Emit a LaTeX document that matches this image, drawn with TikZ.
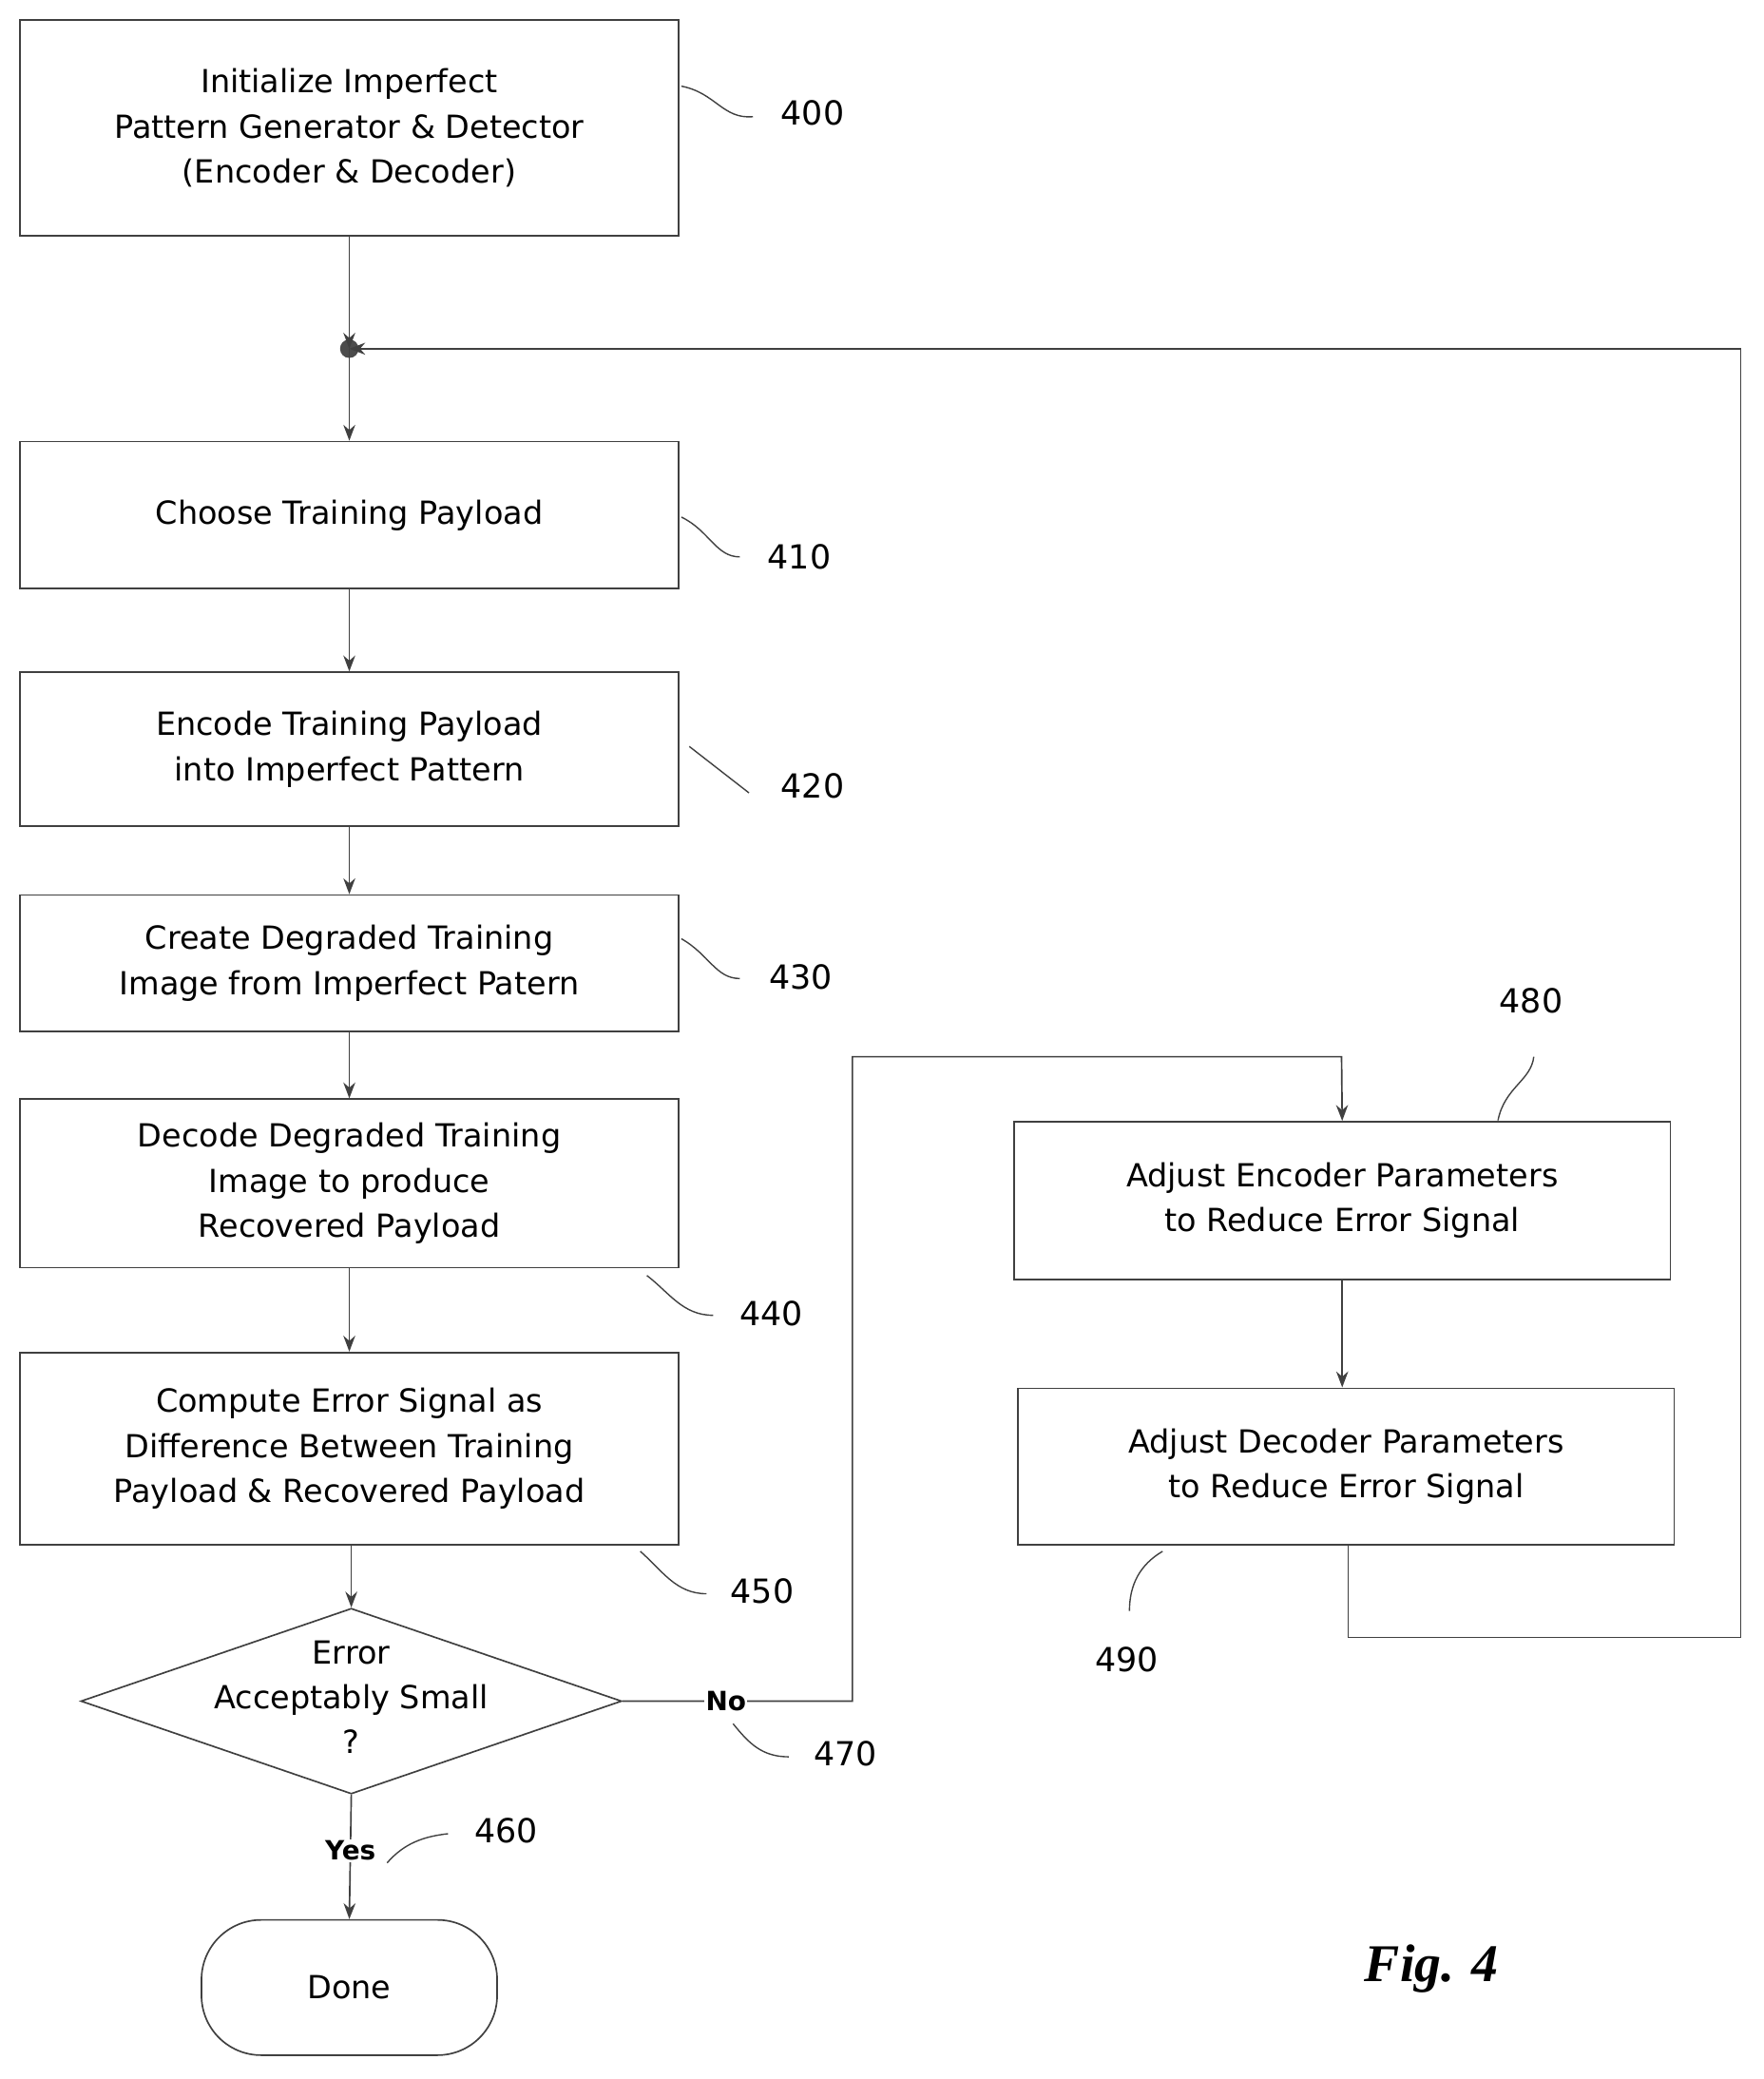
\documentclass[tikz,border=0pt]{standalone}
\usepackage{fontspec}
\setmainfont{DejaVu Sans}
\newfontfamily\figfont{Liberation Serif}
\usetikzlibrary{arrows.meta,shapes.geometric}
\begin{document}
\begin{tikzpicture}[x=1pt,y=-1pt,
  every node/.style={font=\fontsize{24}{34}\selectfont},
  box/.style={draw=black!75,line width=1.2pt,align=center,inner sep=0},
  ln/.style={draw=black!75,line width=1.2pt},
  arr/.style={ln,-{Stealth[length=12pt,width=9pt]}},
  lab/.style={font=\fontsize{25}{30}\selectfont},
  lead/.style={draw=black!75,line width=1pt}]
\useasboundingbox (0,0) rectangle (1330,1568);
\node[box,minimum width=497pt,minimum height=163pt] (b400) at (263.5,96.5) {Initialize Imperfect\\Pattern Generator \& Detector\\(Encoder \& Decoder)};
\node[box,minimum width=497pt,minimum height=111pt] (b410) at (263.5,388.5) {Choose Training Payload};
\node[box,minimum width=497pt,minimum height=116pt] (b420) at (263.5,565) {Encode Training Payload\\into Imperfect Pattern};
\node[box,minimum width=497pt,minimum height=103pt] (b430) at (263.5,726.5) {Create Degraded Training\\Image from Imperfect Patern};
\node[box,minimum width=497pt,minimum height=127pt] (b440) at (263.5,892.5) {Decode Degraded Training\\Image to produce\\Recovered Payload};
\node[box,minimum width=497pt,minimum height=145pt] (b450) at (263.5,1092.5) {Compute Error Signal as\\Difference Between Training\\Payload \& Recovered Payload};
\node[box,diamond,aspect=2.9,minimum width=408pt,minimum height=140pt] (dia) at (265,1283) {};
\node[align=center] at (265,1280) {Error\\Acceptably Small\\?};
\node[box,rounded corners=45pt,minimum width=223pt,minimum height=102pt] (done) at (263.5,1499) {Done};
\node[box,minimum width=495pt,minimum height=119pt] (b480) at (1012.5,905.5) {Adjust Encoder Parameters\\to Reduce Error Signal};
\node[box,minimum width=495pt,minimum height=118pt] (b490) at (1015.5,1106) {Adjust Decoder Parameters\\to Reduce Error Signal};
\coordinate (j) at (263.5,263);
\fill[black!70] (j) circle (7pt);
\draw[arr] (b400) -- (j);
\draw[arr] (j) -- (b410);
\draw[arr] (b410) -- (b420);
\draw[arr] (b420) -- (b430);
\draw[arr] (b430) -- (b440);
\draw[arr] (b440) -- (b450);
\draw[arr] (b450.south -| dia.north) -- (dia.north);
\draw[arr] (dia.south) -- node[fill=white,inner sep=1pt,font=\fontsize{20}{24}\selectfont\bfseries,pos=0.45]{Yes} (done.north);
\draw[arr] (b480) -- (b490.north -| b480.south);
\draw[arr] (dia.east) -- node[fill=white,inner sep=1pt,font=\fontsize{20}{24}\selectfont\bfseries,pos=0.45]{No} (643,1283) -- (643,797) -- (1012,797) -- (b480.north);
\draw[arr] (b490.south -| 1017,0) -- (1017,1235) -- (1313,1235) -- (1313,263) -- (j);
\node[lab] at (613,85) {400};
\node[lab] at (603,420) {410};
\node[lab] at (613,593) {420};
\node[lab] at (604,737) {430};
\node[lab] at (582,991) {440};
\node[lab] at (575,1200) {450};
\node[lab] at (638,1323) {470};
\node[lab] at (382,1381) {460};
\node[lab] at (1155,755) {480};
\node[lab] at (850,1252) {490};
\draw[lead] (514,65) .. controls (540,70) and (545,90) .. (568,88);
\draw[lead] (514,390) .. controls (535,400) and (540,420) .. (558,420);
\draw[lead] (520,563) -- (565,598);
\draw[lead] (514,708) .. controls (535,720) and (540,738) .. (558,738);
\draw[lead] (488,962) .. controls (505,975) and (515,992) .. (538,992);
\draw[lead] (483,1170) .. controls (500,1185) and (510,1202) .. (533,1202);
\draw[lead] (553,1300) .. controls (565,1315) and (575,1325) .. (595,1325);
\draw[lead] (292,1405) .. controls (305,1390) and (320,1385) .. (338,1383);
\draw[lead] (1130,845) .. controls (1135,820) and (1155,815) .. (1157,797);
\draw[lead] (877,1170) .. controls (860,1180) and (852,1195) .. (852,1215);
\node[font=\figfont\fontsize{40}{48}\selectfont\itshape\bfseries] at (1080,1485) {Fig. 4};
\end{tikzpicture}
\end{document}
